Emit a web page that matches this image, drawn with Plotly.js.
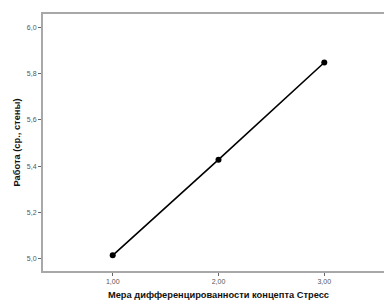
<!DOCTYPE html>
<html>
<head>
<meta charset="utf-8">
<script src="https://cdn.plot.ly/plotly-3.0.1.min.js"></script>
<style>html,body{margin:0;padding:0;overflow:hidden;background:#fff;}#chart{width:400px;height:300px;}</style>
</head>
<body>
<div id="chart"></div>
<script>
const xValues = [1, 2, 3];
const yValues = [5.014, 5.428, 5.849];
const xTickVals = [1, 2, 3];
const xTickText = ["1,00", "2,00", "3,00"];
const yTickVals = [5.0, 5.2, 5.4, 5.6, 5.8, 6.0];
const yTickText = ["5,0", "5,2", "5,4", "5,6", "5,8", "6,0"];
const xTitle = "Мера дифференцированности концепта Стресс";
const yTitle = "Работа (ср., стены)";

const trace = {
  x: xValues, y: yValues, type: "scatter", mode: "lines+markers",
  line: {color: "#000", width: 1.6},
  marker: {color: "#000", size: 6},
  hoverinfo: "none"
};
const tickFont = {family: "Liberation Sans, Arial, sans-serif", size: 7, color: "#555"};
const titleFont = {family: "Liberation Sans, Arial, sans-serif", size: 9.3, color: "#111", weight: "bold"};
const layout = {
  width: 400, height: 300,
  margin: {l: 43, r: 6, t: 14, b: 29},
  paper_bgcolor: "#fff", plot_bgcolor: "#fff",
  showlegend: false,
  xaxis: {
    range: [0.341, 3.659], tickvals: xTickVals, ticktext: xTickText,
    showgrid: false, zeroline: false,
    showline: true, mirror: true, linecolor: "#a8a8a8", linewidth: 2,
    ticks: "outside", ticklen: 3, tickcolor: "#666", tickwidth: 1,
    tickfont: tickFont,
    title: {text: "<b>" + xTitle + "</b>", font: titleFont, standoff: 7}
  },
  yaxis: {
    range: [4.946, 6.059], tickvals: yTickVals, ticktext: yTickText,
    showgrid: false, zeroline: false,
    showline: true, mirror: true, linecolor: "#a8a8a8", linewidth: 2,
    ticks: "outside", ticklen: 3, tickcolor: "#666", tickwidth: 1,
    tickfont: tickFont,
    title: {text: "<b>" + yTitle + "</b>", font: titleFont, standoff: 5}
  }
};
Plotly.newPlot("chart", [trace], layout, {displayModeBar: false, staticPlot: true});
</script>
</body>
</html>
